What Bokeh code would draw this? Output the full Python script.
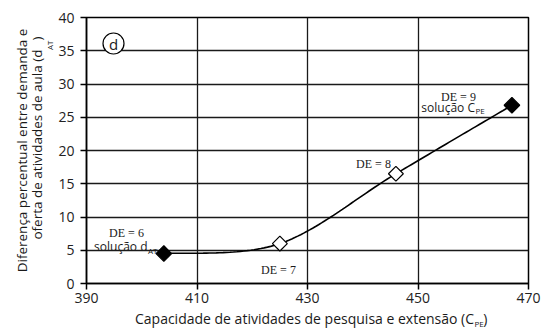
import numpy as np
from math import pi
from bokeh.plotting import figure
from bokeh.models import Label, Range1d, FixedTicker, Title
from bokeh.embed import file_html
from bokeh.resources import INLINE

# ---- data ----
de_labels = ["DE = 6", "DE = 7", "DE = 8", "DE = 9"]
cpe = [404, 425, 446, 467]
dat = [4.5, 6.0, 16.5, 26.8]
is_solution = [True, False, False, True]
x_ticks = [390, 410, 430, 450, 470]
y_ticks = [0, 5, 10, 15, 20, 25, 30, 35, 40]
x_title = "Capacidade de atividades de pesquisa e extensão (C"
y_title_1 = "Diferença percentual entre demanda e"
y_title_2 = "oferta de atividades de aula (d"

SANS = "Open Sans"
SERIF = "Liberation Serif"
GAP = "\u2002\u2009"  # room for the subscript

# ---- layout ----
W, H = 549, 331
BL, BR, BT, BB = 86, 21, 17, 48
X0, X1, Y0, Y1 = 390, 470, 0, 40
FW, FH = W - BL - BR, H - BT - BB
OX, OY = BL, BT + FH  # window px of data origin


def px2x(px):
    return X0 + (px - OX) * (X1 - X0) / FW


def px2y(py):
    return Y0 + (OY - py) * (Y1 - Y0) / FH


def smooth(xs, ys, n=40):
    P = np.column_stack([xs, ys]).astype(float)
    m = len(P)
    out = []
    for i in range(m - 1):
        p0 = P[max(i - 1, 0)]
        p1 = P[i]
        p2 = P[i + 1]
        p3 = P[min(i + 2, m - 1)]
        c1 = p1 + (p2 - p0) / 6.0
        c2 = p2 - (p3 - p1) / 6.0
        t = np.linspace(0, 1, n)[:, None]
        seg = ((1 - t) ** 3) * p1 + 3 * ((1 - t) ** 2) * t * c1 + 3 * (1 - t) * t ** 2 * c2 + t ** 3 * p2
        out.append(seg if i == 0 else seg[1:])
    S = np.vstack(out)
    return S[:, 0], S[:, 1]


p = figure(width=W, height=H, output_backend="svg", toolbar_location=None,
           x_range=Range1d(X0, X1), y_range=Range1d(Y0, Y1),
           min_border_left=BL, min_border_right=BR, min_border_top=BT, min_border_bottom=BB)
p.background_fill_color = "white"
p.border_fill_color = "white"
p.outline_line_color = "black"
p.outline_line_width = 1.5

for ax in (p.xaxis[0], p.yaxis[0]):
    ax.axis_line_color = "black"
    ax.axis_line_width = 1.5
    ax.major_tick_line_color = "black"
    ax.major_tick_line_width = 1.5
    ax.major_tick_in = 0
    ax.major_tick_out = 6
    ax.minor_tick_line_color = None
    ax.major_label_text_font = SANS
    ax.major_label_text_font_size = "14px"
    ax.major_label_text_color = "#222222"
p.xaxis.ticker = FixedTicker(ticks=x_ticks)
p.yaxis.ticker = FixedTicker(ticks=y_ticks)
p.xaxis.major_label_standoff = 3
p.yaxis.major_label_standoff = 6

p.grid.grid_line_color = "#1a1a1a"
p.grid.grid_line_width = 1.3
p.xgrid.ticker = FixedTicker(ticks=x_ticks)
p.ygrid.ticker = FixedTicker(ticks=y_ticks)

sx, sy = smooth(cpe, dat)
p.line(sx, sy, line_color="black", line_width=1.6)

fill = ["black" if s else "white" for s in is_solution]
sizes = [11 if s else 10.5 for s in is_solution]
p.scatter(cpe, dat, marker="square", angle=pi / 4, size=sizes,
          fill_color=fill, line_color="black", line_width=1.2)

# circled "d"
p.scatter([px2x(113)], [px2y(43)], marker="circle", size=21,
          fill_color="white", line_color="black", line_width=1.2)


def lab(text, xpx, ypx, size, font=SANS, align="center", baseline="alphabetic", angle=0):
    p.add_layout(Label(x=px2x(xpx), y=px2y(ypx), text=text, text_font=font,
                       text_font_size=f"{size}px", text_align=align,
                       text_baseline=baseline, angle=angle, text_color="#1a1a1a"))


lab("d", 113, 43, 15, font=SANS, baseline="middle")

# point annotations
lab(de_labels[0], 126, 232, 12, font=SERIF)
lab("solução d", 147, 246, 12, align="right")
lab("AT", 147.5, 250, 8, align="left")
lab(de_labels[1], 278, 269, 12, font=SERIF)
lab(de_labels[2], 373, 163, 12, font=SERIF)
lab(de_labels[3], 458, 96, 12, font=SERIF)
lab("solução C", 474.5, 107, 12, align="right")
lab("PE", 475, 110, 8, align="left")


def title(text, side, size, align, offset, standoff, valign="bottom"):
    t = Title(text=text, align=align, offset=offset, standoff=standoff,
              vertical_align=valign,
              text_font=SANS, text_font_size=f"{size}px", text_font_style="normal",
              text_color="#1a1a1a")
    p.add_layout(t, side)


# x-axis title
title(x_title + GAP + ")", "below", 14, "right", 41, 3)
title("PE", "below", 8, "left", 388, -24, valign="top")

# y-axis title
title("AT", "left", 8, "right", 23, 2)
title(y_title_2 + GAP + ")", "left", 13.5, "right", 19, -11)
title(y_title_1, "left", 13.5, "center", 0, 1)

open("out.html", "w").write(file_html(p, INLINE))
